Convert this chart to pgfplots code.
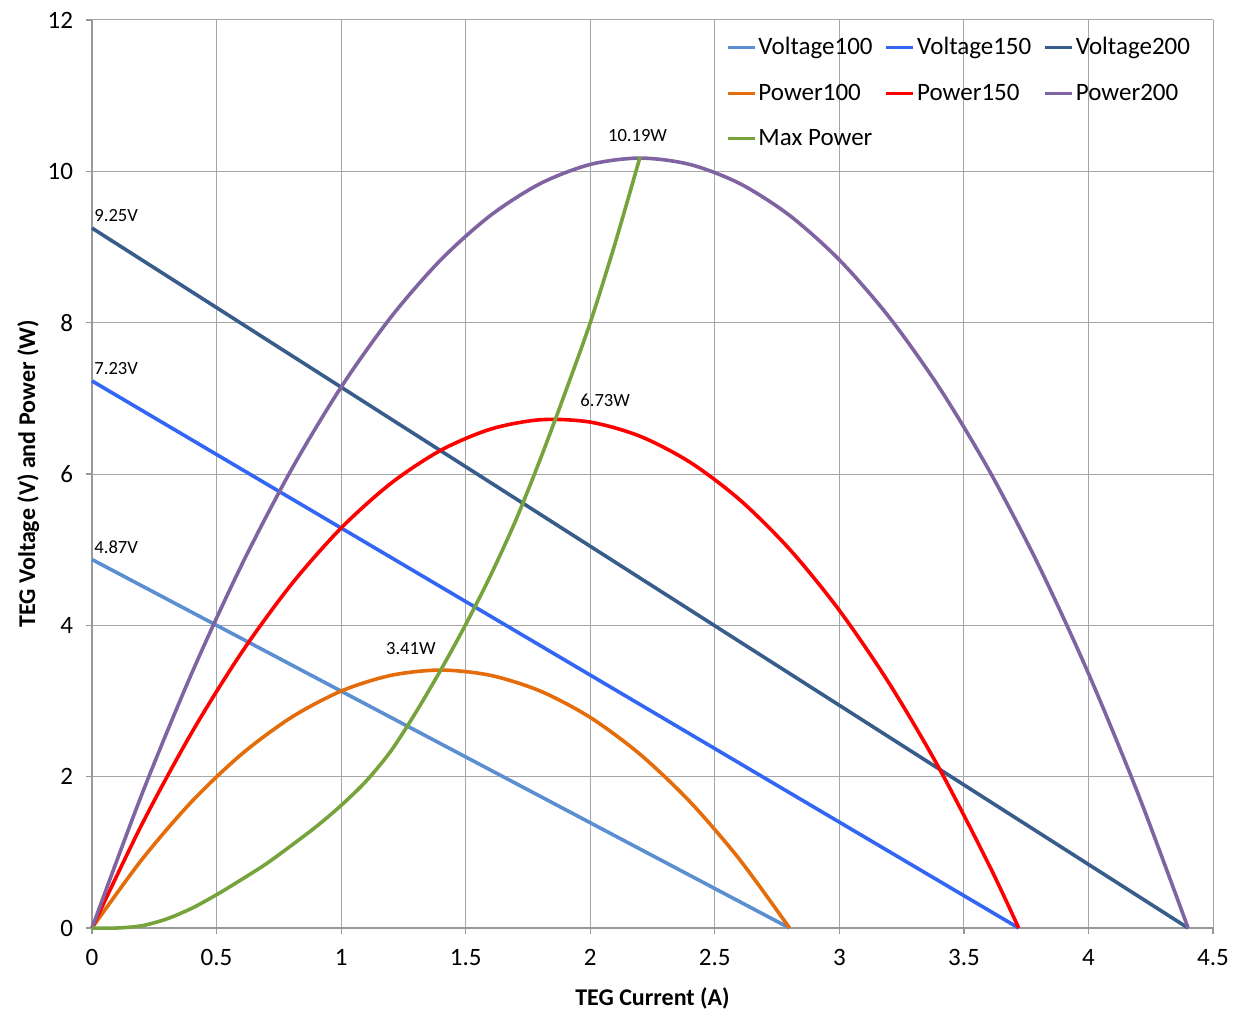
\documentclass[border=0pt]{standalone}
\usepackage{fontspec}
\setmainfont{Carlito}
\usepackage{pgfplots}
\pgfplotsset{compat=1.18}
\definecolor{cV100}{HTML}{5B8FD2}
\definecolor{cV150}{HTML}{3366F5}
\definecolor{cV200}{HTML}{385D8A}
\definecolor{cP100}{HTML}{E46C0A}
\definecolor{cP150}{HTML}{FF0000}
\definecolor{cP200}{HTML}{8064A2}
\definecolor{cMax}{HTML}{77A33D}
\begin{document}
\begin{tikzpicture}
\begin{axis}[
  scale only axis, width=560.5pt, height=454pt,
  xmin=0, xmax=4.5, ymin=0, ymax=12,
  xtick={0,0.5,...,4.5}, ytick={0,2,...,12},
  xticklabels={0,0.5,1,1.5,2,2.5,3,3.5,4,4.5},
  /pgf/number format/assume math mode=true,
  ticklabel style={font=\fontsize{12.5pt}{14pt}\selectfont},
  yticklabel style={xshift=-3pt},
  xticklabel style={yshift=-4pt},
  grid=major, grid style={gray!70, line width=0.5pt},
  axis line style={gray!80, line width=0.6pt},
  tick style={gray!80, line width=0.6pt},
  tick align=outside, major tick length=3pt,
  xtick pos=bottom, ytick pos=left,
  axis x line*=bottom, axis y line*=left,
  xlabel={\bfseries TEG Current (A)},
  ylabel={\bfseries TEG Voltage (V) and Power (W)},
  label style={font=\fontsize{12pt}{14pt}\selectfont},
  xlabel style={yshift=-4pt},
  ylabel style={yshift=-2.7pt},
  legend columns=3,
  legend style={draw=none, fill=none, at={(0.987,0.99)}, anchor=north east,
    font=\fontsize{12.5pt}{14pt}\selectfont, row sep=9pt,
    /tikz/every even column/.append style={column sep=5pt},
    nodes={inner xsep=1pt}},
  legend cell align=left,
  legend image code/.code={\draw[#1, line width=1.8pt] (0pt,0pt) -- (13.5pt,0pt);},
  every axis plot/.append style={line width=1.8pt},
  clip=false,
]
\addplot[cV100] coordinates {(0,4.87) (2.8,0)};
\addlegendentry{Voltage100}
\addplot[cV150] coordinates {(0,7.23) (3.72,0)};
\addlegendentry{Voltage150}
\addplot[cV200] coordinates {(0,9.25) (4.4,0)};
\addlegendentry{Voltage200}
\addplot[cP100, smooth] coordinates {
(0,0) (0.2,0.904) (0.4,1.670) (0.6,2.296) (0.8,2.783) (1.0,3.131) (1.2,3.339)
(1.4,3.409) (1.6,3.339) (1.8,3.131) (2.0,2.783) (2.2,2.296) (2.4,1.670) (2.6,0.904) (2.8,0)};
\addlegendentry{Power100}
\addplot[cP150, smooth] coordinates {
(0,0) (0.2,1.368) (0.4,2.581) (0.6,3.638) (0.8,4.540) (1.0,5.286) (1.2,5.877)
(1.4,6.313) (1.6,6.593) (1.8,6.717) (2.0,6.686) (2.2,6.499) (2.4,6.157) (2.6,5.660)
(2.8,5.007) (3.0,4.198) (3.2,3.234) (3.4,2.115) (3.6,0.840) (3.72,0)};
\addlegendentry{Power150}
\addplot[cP200, smooth] coordinates {
(0,0) (0.2,1.766) (0.4,3.364) (0.6,4.793) (0.8,6.055) (1.0,7.148) (1.2,8.073)
(1.4,8.830) (1.6,9.418) (1.8,9.839) (2.0,10.091) (2.2,10.175) (2.4,10.091) (2.6,9.839)
(2.8,9.418) (3.0,8.830) (3.2,8.073) (3.4,7.148) (3.6,6.055) (3.8,4.793) (4.0,3.364)
(4.2,1.766) (4.4,0)};
\addlegendentry{Power200}
\addplot[cMax, smooth, tension=0.5] coordinates {
(0,0) (0.1,0.0) (0.2,0.03) (0.3,0.12) (0.4,0.26) (0.5,0.44) (0.6,0.64) (0.7,0.85)
(0.8,1.09) (0.9,1.34) (1.0,1.62) (1.1,1.94) (1.2,2.34) (1.3,2.85) (1.4,3.41)
(1.5,4.01) (1.6,4.66) (1.7,5.38) (1.8,6.2) (1.9,7.08) (2.0,8.0) (2.1,9.05) (2.2,10.19)};
\addlegendentry{Max Power}
\node[font=\fontsize{9.3pt}{11pt}\selectfont, anchor=south west, inner sep=1pt] at (axis cs:0,9.3) {9.25V};
\node[font=\fontsize{9.3pt}{11pt}\selectfont, anchor=south west, inner sep=1pt] at (axis cs:0,7.28) {7.23V};
\node[font=\fontsize{9.3pt}{11pt}\selectfont, anchor=south west, inner sep=1pt] at (axis cs:0,4.92) {4.87V};
\node[font=\fontsize{9.3pt}{11pt}\selectfont] at (axis cs:1.28,3.7) {3.41W};
\node[font=\fontsize{9.3pt}{11pt}\selectfont] at (axis cs:2.06,6.98) {6.73W};
\node[font=\fontsize{9.3pt}{11pt}\selectfont] at (axis cs:2.19,10.47) {10.19W};
\path (rel axis cs:0,0) ++(-46pt,-42pt) (rel axis cs:1,1) ++(12.5pt,10pt);
\end{axis}
\end{tikzpicture}
\end{document}
